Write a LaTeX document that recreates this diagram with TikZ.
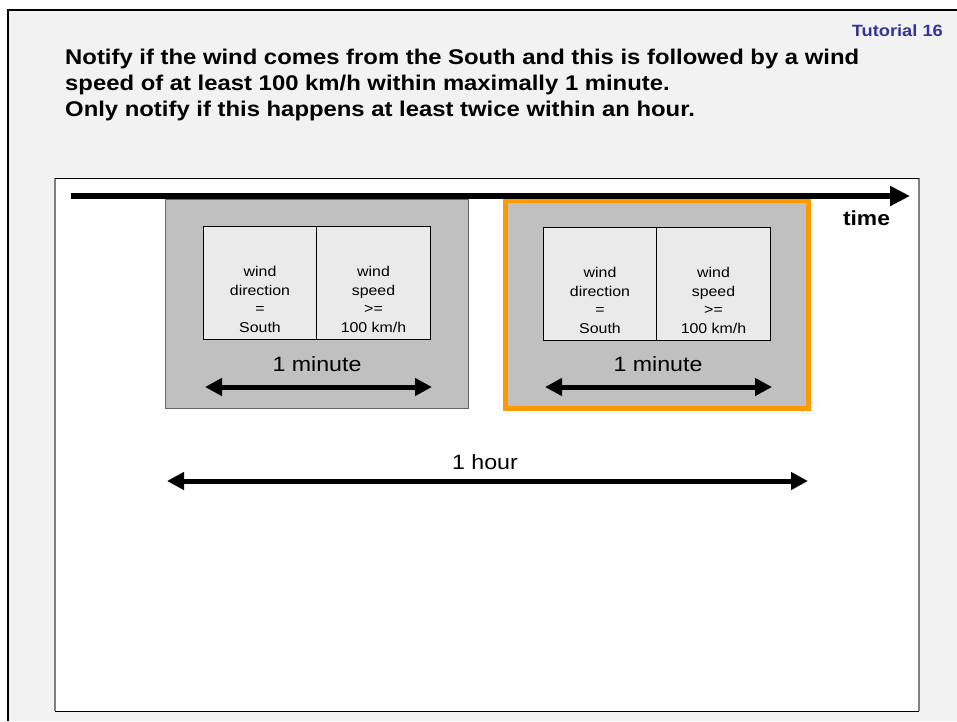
\documentclass[tikz,border=0pt]{standalone}
\usepackage{fontspec}
\setmainfont{Liberation Sans}[FakeStretch=1.12]
\usetikzlibrary{arrows.meta,positioning,calc}

\definecolor{slidebg}{HTML}{F2F2F2}
\definecolor{wingray}{HTML}{C0C0C0}
\definecolor{cellgray}{HTML}{EAEAEA}
\definecolor{hiorange}{HTML}{FF9900}
\definecolor{tutblue}{HTML}{333399}

\tikzset{
  window/.style={draw=black!60, line width=1pt, fill=wingray, minimum width=303pt, minimum height=209pt, inner sep=0pt},
  cell/.style={draw=black, line width=0.8pt, fill=cellgray, minimum width=113.5pt, minimum height=113pt, inner sep=0pt, outer sep=0pt},
  celltext/.style={align=center, inner sep=0pt, font=\fontsize{14.2}{18.7}\selectfont},
  span/.style={line width=5pt, {Triangle[length=17pt,width=17pt]}-{Triangle[length=17pt,width=17pt]}},
  spanlabel/.style={anchor=base, inner sep=0pt, font=\fontsize{20.7}{24}\selectfont},
}

\begin{document}
\begin{tikzpicture}[x=1pt,y=-1pt]
\useasboundingbox (0,0) rectangle (957,721);
\fill[white] (0,0) rectangle (957,721);
\fill[slidebg] (8,10) rectangle (957,721);
\draw[line width=2pt] (8,721) -- (8,10) -- (957,10);

\node[anchor=base east, inner sep=0pt, text=tutblue, font=\fontsize{16.3}{19}\selectfont\bfseries] (tut) at (943,36) {Tutorial 16};
\node[anchor=north west, align=left, inner sep=0pt, font=\fontsize{21.3}{26}\selectfont\bfseries] (task) at (65,48.5)
  {Notify if the wind comes from the South and this is followed by a wind\\
   speed of at least 100 km/h within maximally 1 minute.\\
   Only notify if this happens at least twice within an hour.};

% white panel
\fill[white] (55,178) rectangle (919,711);
\draw[line width=2pt, black!50] (55,178) -- (55,711);
\draw[line width=2pt, black!50] (919,178) -- (919,711);
\draw[line width=1pt] (55,178) -- (919,178);
\draw[line width=1pt] (55,711) -- (919,711);

% two windows
\node[window] (win1) at (316.5,303.5) {};
\node[window, draw=hiorange, line width=5pt, minimum height=208pt] (win2) at (657,304.5) {};

\coordinate (t0) at (71,196);
\coordinate (t1) at (910,196);
\draw[line width=6pt, -{Triangle[length=20pt,width=19pt]}] (t0) -- (t1);
\node[anchor=base, inner sep=0pt, font=\fontsize{20.4}{24}\selectfont\bfseries] (time) at (866.5,225) {time};

\node[cell] (d1) at (260,282.5) {};
\node[cell, right=0pt of d1] (s1) {};
\node[cell] (d2) at (600,283.5) {};
\node[cell, right=0pt of d2] (s2) {};

\node[celltext, above=6pt of d1.south] (d1t) {wind\\direction\\=\\South};
\node[celltext, above=6pt of s1.south] (s1t) {wind\\speed\\>=\\100 km/h};
\node[celltext, above=6pt of d2.south] (d2t) {wind\\direction\\=\\South};
\node[celltext, above=6pt of s2.south] (s2t) {wind\\speed\\>=\\100 km/h};

\node[spanlabel] (min1) at (317,371) {1 minute};
\node[spanlabel] (min2) at (658,371) {1 minute};
\coordinate (m1a) at (205,387);
\coordinate (m1b) at (432,387);
\coordinate (m2a) at (545,387);
\coordinate (m2b) at (772,387);
\draw[span] (m1a) -- (m1b);
\draw[span] (m2a) -- (m2b);

\node[spanlabel] (hour) at (485,469) {1 hour};
\coordinate (h0) at (167,481);
\coordinate (h1) at (808,481);
\draw[span] (h0) -- (h1);
\end{tikzpicture}
\end{document}
